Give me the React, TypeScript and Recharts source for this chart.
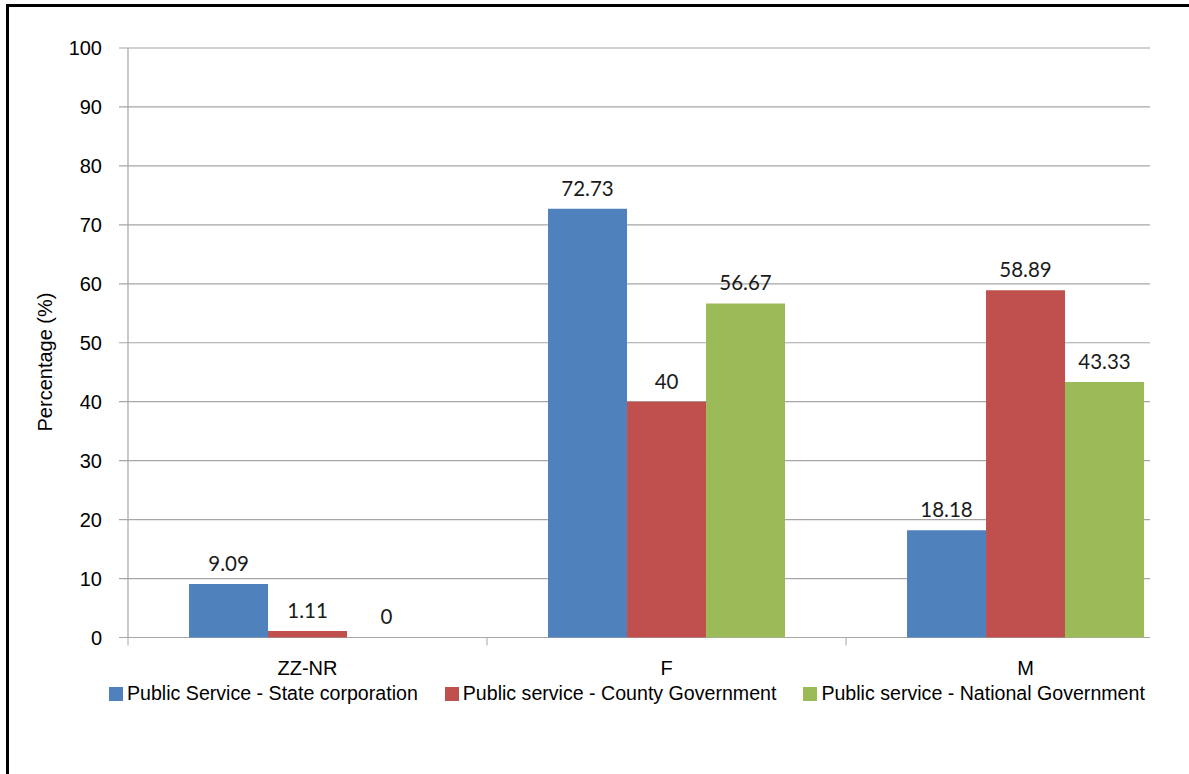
import React from 'react'
import { BarChart, Bar, XAxis, YAxis, CartesianGrid, Rectangle } from 'recharts'

const categories = ['ZZ-NR', 'F', 'M']
const stateCorp = [9.09, 72.73, 18.18]
const countyGov = [1.11, 40, 58.89]
const nationalGov = [0, 56.67, 43.33]
const yTicks = [0, 10, 20, 30, 40, 50, 60, 70, 80, 90, 100]

const SERIES = [
  { key: 'state', name: 'Public Service - State corporation', color: '#4f81bd', values: stateCorp },
  { key: 'county', name: 'Public service - County Government', color: '#c0504d', values: countyGov },
  { key: 'national', name: 'Public service - National Government', color: '#9bbb59', values: nationalGov },
]

const data = categories.map((c, i) => {
  const row: any = { cat: c }
  SERIES.forEach(s => { row[s.key] = s.values[i] })
  return row
})

const AXIS_FONT = '"Liberation Sans", Arial, sans-serif'
const GRID = '#a6a6a6'
const GRID_END = 1150

const CatTick = (p: any) => {
  const half = p.payload?.offset || 179.5
  const last = p.index === categories.length - 1
  return (
    <g>
      <line x1={p.x - half} x2={p.x - half} y1={p.y - 8} y2={p.y} stroke={GRID} />
      {last && <line x1={p.x + half} x2={p.x + half} y1={p.y - 8} y2={p.y} stroke={GRID} />}
      <text x={p.x} y={p.y + 29.5} textAnchor="middle" fontSize={20} fontFamily={AXIS_FONT} fill="#000">
        {p.payload.value}
      </text>
    </g>
  )
}

// value labels drawn by hand so the zero bar still gets its "0"
const ValueLabel = (p: any) => {
  if (p.value == null) return null
  const x = Number(p.x) + Number(p.width) / 2
  const y = Number(p.y) - 13
  return (
    <text x={x} y={y} textAnchor="middle" fontSize={20.5} fontFamily='Lato, "Open Sans", sans-serif' fill="#1a1a1a">
      {p.value}
    </text>
  )
}

// zero values keep a hairline slot (for the label) but draw no fill
const BarShape = (p: any) => {
  if (p.height < 1) return <g />
  return <Rectangle {...p} />
}

export default function App() {
  return (
    <div style={{ position: 'absolute', left: 0, top: 0, width: 1189, height: 774, overflow: 'hidden', background: '#fff' }}>
      <div style={{ position: 'absolute', left: 6, top: 4, width: 1400, height: 1000, borderLeft: '3px solid #000', borderTop: '3px solid #000' }} />
      <div style={{ position: 'absolute', left: 0, top: 0 }}>
        <BarChart width={1215} height={700} data={data} margin={{ top: 48, right: 10, bottom: 22.5, left: 0 }}
          barCategoryGap="17%" barGap={0}>
          <CartesianGrid vertical={false}
            horizontal={(p: any) => (
              <line key={p.key} x1={p.x1 - 9} x2={GRID_END} y1={p.y1} y2={p.y2} stroke={GRID} strokeWidth={1.2} />
            )} />
          <XAxis dataKey="cat" height={40} axisLine={false} tickLine={false} tickSize={8} tickMargin={0}
            tick={<CatTick />} interval={0} />
          <YAxis width={128} domain={[0, 100]} ticks={yTicks} interval={0} tickLine={false} tickSize={9} tickMargin={17}
            axisLine={{ stroke: GRID, strokeWidth: 1.2 }}
            tick={{ fontSize: 20, fontFamily: AXIS_FONT, fill: '#000' }}
            label={{
              content: () => (
                <text transform="translate(45,362) rotate(-90)" textAnchor="middle" dominantBaseline="central"
                  fontSize={20} fontFamily={AXIS_FONT} fill="#000">Percentage (%)</text>
              ),
            }} />
          {SERIES.map(s => (
            <Bar key={s.key} dataKey={s.key} name={s.name} fill={s.color} isAnimationActive={false}
              minPointSize={0.5} shape={<BarShape />} label={<ValueLabel />} />
          ))}
        </BarChart>
      </div>
      <div style={{ position: 'absolute', left: 109, top: 682, display: 'flex', gap: 27, alignItems: 'center',
        fontFamily: AXIS_FONT, fontSize: 19.6, color: '#000', whiteSpace: 'nowrap' }}>
        {SERIES.map(s => (
          <div key={s.key} style={{ display: 'flex', alignItems: 'center', gap: 4 }}>
            <span style={{ width: 14, height: 14, background: s.color, display: 'inline-block' }} />
            <span>{s.name}</span>
          </div>
        ))}
      </div>
    </div>
  )
}
